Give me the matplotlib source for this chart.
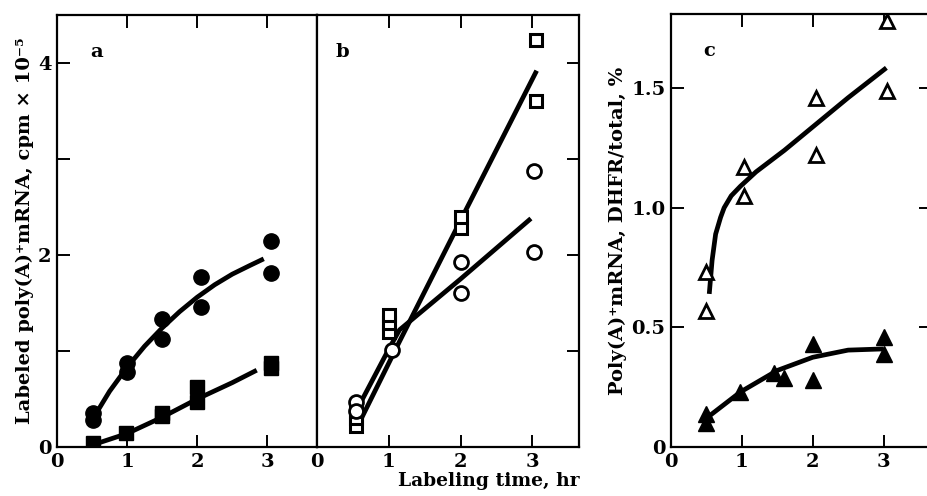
import numpy as np
import matplotlib
matplotlib.use("Agg")
import matplotlib.pyplot as plt

plt.rcParams['font.family'] = ['DejaVu Serif']
plt.rcParams['font.weight'] = 'bold'
plt.rcParams['axes.labelweight'] = 'bold'

# panel a: filled circles / filled squares
a_circ_x = [0.52, 0.52, 1.0, 1.0, 1.5, 1.5, 2.05, 2.05, 3.06, 3.06]
a_circ_y = [0.28, 0.35, 0.78, 0.88, 1.33, 1.12, 1.77, 1.46, 2.15, 1.81]
a_sq_x = [0.52, 0.99, 1.5, 1.5, 2.0, 2.0, 3.05, 3.05]
a_sq_y = [0.04, 0.15, 0.32, 0.35, 0.62, 0.47, 0.88, 0.82]
a_circ_fit_x = [0.55, 0.75, 1.0, 1.25, 1.5, 1.75, 2.0, 2.25, 2.5, 2.75, 2.95]
a_circ_fit_y = [0.34, 0.58, 0.83, 1.05, 1.24, 1.41, 1.56, 1.69, 1.80, 1.89, 1.96]
a_sq_fit_x = [0.5, 1.0, 1.5, 2.0, 2.5, 2.85]
a_sq_fit_y = [0.02, 0.14, 0.31, 0.50, 0.67, 0.80]

# panel b: open squares / open circles
b_sq_x = [0.55, 0.55, 0.55, 1.0, 1.0, 1.0, 2.0, 2.0, 3.05, 3.05]
b_sq_y = [0.22, 0.30, 0.38, 1.20, 1.29, 1.38, 2.28, 2.40, 4.24, 3.60]
b_circ_x = [0.54, 0.54, 1.05, 2.0, 2.0, 3.02, 3.02]
b_circ_y = [0.47, 0.38, 1.01, 1.93, 1.60, 2.87, 2.03]
b_sq_fit_x = [0.62, 1.15, 2.0, 3.06]
b_sq_fit_y = [0.30, 1.10, 2.36, 3.92]
b_circ_fit_x = [0.55, 1.0, 1.15, 2.0, 2.98]
b_circ_fit_y = [0.38, 1.02, 1.22, 1.75, 2.38]

# panel c: open triangles / filled triangles
c_open_x = [0.5, 0.5, 1.03, 1.03, 2.05, 2.05, 3.05, 3.05]
c_open_y = [0.73, 0.57, 1.17, 1.05, 1.46, 1.22, 1.78, 1.49]
c_fill_x = [0.5, 0.5, 0.98, 1.45, 1.59, 2.0, 2.0, 3.0, 3.0]
c_fill_y = [0.14, 0.10, 0.23, 0.31, 0.29, 0.43, 0.28, 0.46, 0.39]
c_open_fit_x = [0.54, 0.58, 0.63, 0.70, 0.75, 0.85, 0.98, 1.2, 1.6, 2.05, 2.5, 3.04]
c_open_fit_y = [0.64, 0.78, 0.89, 0.96, 1.00, 1.05, 1.09, 1.15, 1.24, 1.35, 1.46, 1.585]
c_fill_fit_x = [0.52, 0.98, 1.5, 2.0, 2.5, 3.0]
c_fill_fit_y = [0.125, 0.23, 0.32, 0.375, 0.405, 0.41]

fig = plt.figure(figsize=(9.28, 4.96), dpi=100)
H = 496.0
W = 928.0
def box(l, r, t, b):
    return [l / W, 1 - b / H, (r - l) / W, (b - t) / H]

axa = fig.add_axes(box(57, 317, 15, 447))
axb = fig.add_axes(box(317, 579, 15, 447))
axc = fig.add_axes(box(671, 931, 14, 447))

lw = 3.4
def style(ax):
    for s in ax.spines.values():
        s.set_linewidth(1.6)
    ax.tick_params(direction='in', length=9, width=1.4, labelsize=14, pad=4)

# a
axa.plot(a_circ_fit_x, a_circ_fit_y, 'k-', lw=lw, solid_capstyle='butt')
axa.plot(a_sq_fit_x, a_sq_fit_y, 'k-', lw=lw, solid_capstyle='butt')
axa.plot(a_circ_x, a_circ_y, 'ko', ms=11)
axa.plot(a_sq_x, a_sq_y, 'ks', ms=10)
axa.set_xlim(0, 3.71)
axa.set_ylim(0, 4.5)
style(axa)
axa.set_xticks([0, 1, 2, 3])
axa.set_yticks([0, 1, 2, 3, 4])
axa.set_yticklabels(['0', '', '2', '', '4'])
axa.tick_params(top=True, right=False)
axa.set_ylabel('Labeled poly(A)⁺mRNA, cpm × 10⁻⁵', fontsize=14, labelpad=3)
axa.text(0.127, 0.914, 'a', transform=axa.transAxes, fontsize=14, va='center')

# b
axb.plot(b_sq_fit_x, b_sq_fit_y, 'k-', lw=lw, solid_capstyle='butt')
axb.plot(b_circ_fit_x, b_circ_fit_y, 'k-', lw=lw, solid_capstyle='butt')
axb.plot(b_sq_x, b_sq_y, 's', ms=9, mfc='white', mec='black', mew=2.2)
axb.plot(b_circ_x, b_circ_y, 'o', ms=10, mfc='white', mec='black', mew=2.0)
axb.set_xlim(0, 3.65)
axb.set_ylim(0, 4.5)
style(axb)
axb.set_xticks([0, 1, 2, 3])
axb.set_yticks([1, 2, 3, 4])
axb.tick_params(top=True, right=True, left=False, labelleft=False)
axb.set_xlabel('Labeling time, hr', fontsize=13.5, ha='right')
axb.xaxis.set_label_coords(1.003, -0.058)
axb.text(0.069, 0.914, 'b', transform=axb.transAxes, fontsize=14, va='center')

# c
axc.plot(c_open_fit_x, c_open_fit_y, 'k-', lw=lw, solid_capstyle='butt')
axc.plot(c_fill_fit_x, c_fill_fit_y, 'k-', lw=lw, solid_capstyle='butt')
axc.plot(c_open_x, c_open_y, '^', ms=10, mfc='white', mec='black', mew=2.0)
axc.plot(c_fill_x, c_fill_y, 'k^', ms=12)
axc.set_xlim(0, 3.67)
axc.set_ylim(0, 1.81)
style(axc)
axc.set_xticks([0, 1, 2, 3])
axc.set_yticks([0, 0.5, 1.0, 1.5])
axc.set_yticklabels(['0', '0.5', '1.0', '1.5'])
axc.tick_params(top=True, right=True)
axc.set_ylabel('Poly(A)⁺mRNA, DHFR/total, %', fontsize=14, labelpad=3)
axc.text(0.123, 0.915, 'c', transform=axc.transAxes, fontsize=14, va='center')

fig.savefig('out.png', dpi=100)
